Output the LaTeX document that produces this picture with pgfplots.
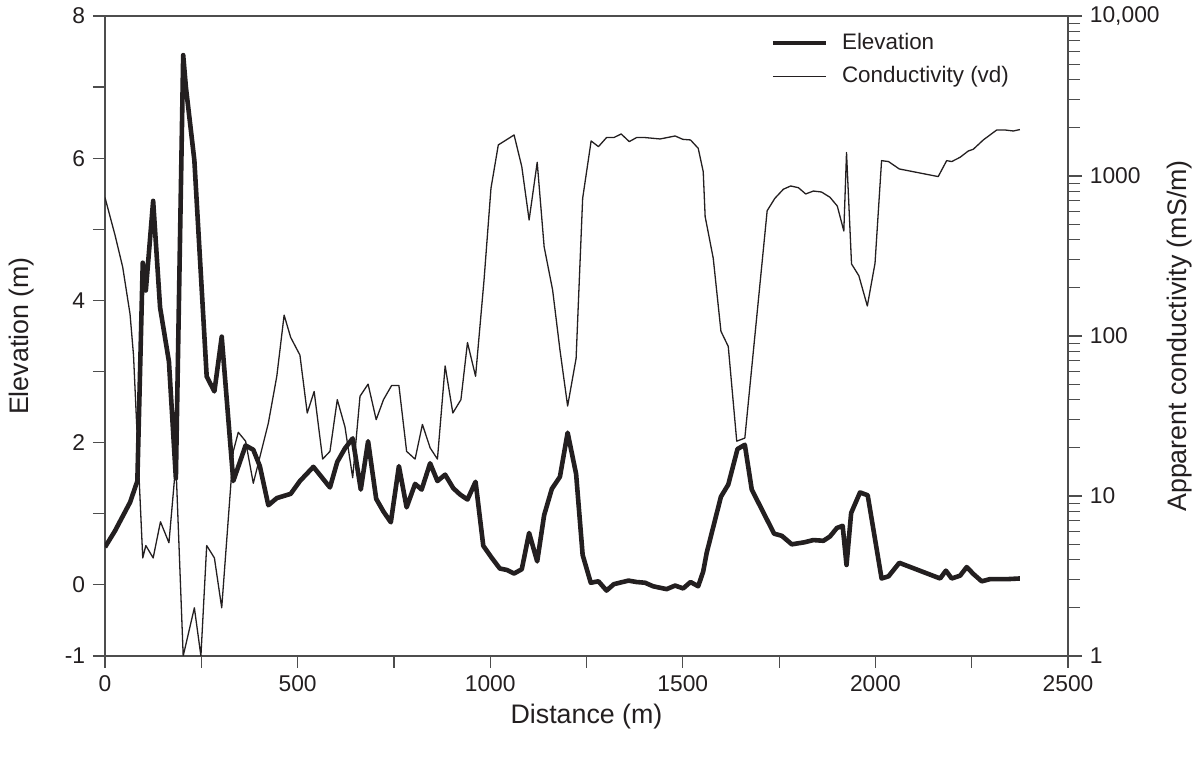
\documentclass[border=0pt]{standalone}
\usepackage{fontspec}
\setmainfont{Liberation Sans}
\usepackage{pgfplots}
\pgfplotsset{compat=1.18}
\usetikzlibrary{calc}
\definecolor{ink}{HTML}{231F20}
\definecolor{axgray}{HTML}{4D4D4D}

\begin{document}
\fontsize{11.2}{13}\selectfont
\begin{tikzpicture}
\pgfplotsset{
  base/.style={
    scale only axis, width=481.5pt, height=320pt,
    xmin=0, xmax=2500,
    axis line style={axgray, line width=0.6pt},
    tick style={axgray, line width=0.6pt},
    tick align=outside,
    major tick length=6pt, minor tick length=6pt,
    /pgf/number format/assume math mode=true,
    tick label style={font=\fontsize{11.4}{13}\selectfont, text=ink},
    label style={font=\fontsize{13.4}{15}\selectfont, text=ink},
  },
}
\begin{axis}[base, name=main,
  ymin=-1, ymax=8,
  xtick pos=left, ytick pos=left,
  ytick={-1,0,2,4,6,8}, minor ytick={1,3,5,7},
  xtick={0,500,...,2500}, minor xtick={250,750,...,2250},
  xticklabel style={/pgf/number format/1000 sep={}},
  xlabel={Distance (m)},
  ylabel={Elevation (m)},
  xlabel style={at={(axis description cs:0.5,-0.0953)}, anchor=center},
  ylabel style={at={(axis description cs:-0.0862,0.5)}, anchor=center},
]
\addplot[ink, line width=2.3pt, line join=round] coordinates {
(0,0.53) (26,0.76) (65,1.16) (84,1.46) (98,4.53) (106,4.14) (125,5.40) (143,3.90)
(166,3.14) (184,1.5) (203,7.45) (210,7.0) (232,5.97) (264,2.93) (284,2.72) (303,3.49)
(333,1.46) (365,1.96) (385,1.90) (402,1.67) (424,1.12) (446,1.22) (482,1.28) (506,1.46)
(541,1.66) (584,1.37) (603,1.73) (623,1.92) (643,2.06) (664,1.34) (683,2.02) (704,1.21)
(723,1.03) (742,0.88) (763,1.67) (783,1.09) (805,1.42) (822,1.34) (844,1.71) (863,1.46)
(883,1.55) (904,1.36) (922,1.27) (941,1.20) (962,1.45) (982,0.55) (1004,0.38) (1025,0.23)
(1043,0.21) (1062,0.16) (1082,0.22) (1101,0.73) (1122,0.33) (1140,0.98) (1160,1.35) (1181,1.52)
(1201,2.14) (1223,1.56) (1240,0.42) (1261,0.03) (1281,0.05) (1302,-0.08) (1321,0.01) (1359,0.06)
(1380,0.04) (1402,0.03) (1423,-0.02) (1458,-0.06) (1480,-0.01) (1501,-0.05) (1520,0.04) (1540,-0.02)
(1553,0.19) (1562,0.45) (1599,1.24) (1618,1.41) (1642,1.91) (1661,1.97) (1679,1.34) (1737,0.72)
(1757,0.69) (1783,0.57) (1817,0.60) (1839,0.63) (1865,0.62) (1882,0.68) (1900,0.80) (1915,0.83)
(1925,0.28) (1937,1.01) (1960,1.30) (1980,1.26) (2016,0.09) (2034,0.12) (2062,0.31) (2168,0.09)
(2183,0.20) (2198,0.09) (2220,0.13) (2237,0.25) (2255,0.15) (2276,0.05) (2297,0.08) (2340,0.08)
(2375,0.09)
};
\end{axis}
\begin{axis}[base,
  ymode=log, ymin=1, ymax=10000,
  axis x line=none, axis y line*=right,
  ytick={1,10,100,1000,10000},
  yticklabels={1,10,100,1000,{10,000}},
  major tick length=7pt,
  ylabel={Apparent conductivity (mS/m)},
  ylabel style={at={(axis description cs:1.1163,0.5)}, anchor=center},
  legend style={at={(axis description cs:0.6906,0.98)}, anchor=north west,
    draw=none, fill=none, inner sep=0pt, row sep=3pt,
    font=\fontsize{11.2}{13}\selectfont, text=ink,
    nodes={inner xsep=7pt}},
  legend cell align=left,
  legend image code/.code={\draw[#1] (0pt,0pt) -- (26.5pt,0pt);},
]
\addlegendimage{ink, line width=2.3pt}
\addlegendentry{Elevation}
\addplot[ink, line width=0.65pt, line join=round] coordinates {
(0,733) (26,427) (46,269) (65,137) (74,76) (98,4.1) (106,4.9) (125,4.1)
(144,6.9) (166,5.1) (184,16) (203,1) (232,2.0) (249,1) (264,4.9) (284,4.1)
(303,2.0) (333,19) (346,25) (365,22) (385,12) (424,28.5) (446,56) (465,135)
(482,98) (506,76) (525,33) (543,45) (565,17) (584,19) (603,40) (623,27)
(643,13) (662,42) (683,50) (704,30) (723,40) (744,49) (763,49) (783,19)
(805,17) (824,28) (844,20) (863,17) (883,65) (903,33) (924,40) (941,91)
(962,56) (984,224) (1002,838) (1021,1563) (1062,1804) (1082,1143) (1101,531) (1122,1217)
(1140,361) (1162,194) (1181,82) (1201,36.5) (1223,72.5) (1240,725) (1262,1655) (1281,1525)
(1302,1738) (1321,1738) (1340,1830) (1361,1640) (1380,1738) (1402,1738) (1441,1703) (1480,1778)
(1500,1694) (1520,1679) (1540,1489) (1553,1064) (1558,557) (1579,306) (1599,107) (1618,86)
(1640,22) (1661,23) (1719,607) (1739,725) (1761,826) (1780,866) (1800,845) (1819,772)
(1839,805) (1860,794) (1882,736) (1901,649) (1918,453) (1925,1400) (1938,282) (1957,238)
(1979,154) (1999,285) (2016,1247) (2034,1230) (2062,1106) (2163,991) (2185,1247) (2198,1230)
(2220,1309) (2241,1432) (2254,1468) (2280,1679) (2315,1939) (2336,1939) (2358,1910) (2375,1950)
};
\addlegendentry{Conductivity (vd)}
\end{axis}
\pgfresetboundingbox
\path[use as bounding box] ($(main.south west)+(-52.5pt,-56.5pt)$) rectangle ($(main.north east)+(64pt,8pt)$);
\end{tikzpicture}
\end{document}
